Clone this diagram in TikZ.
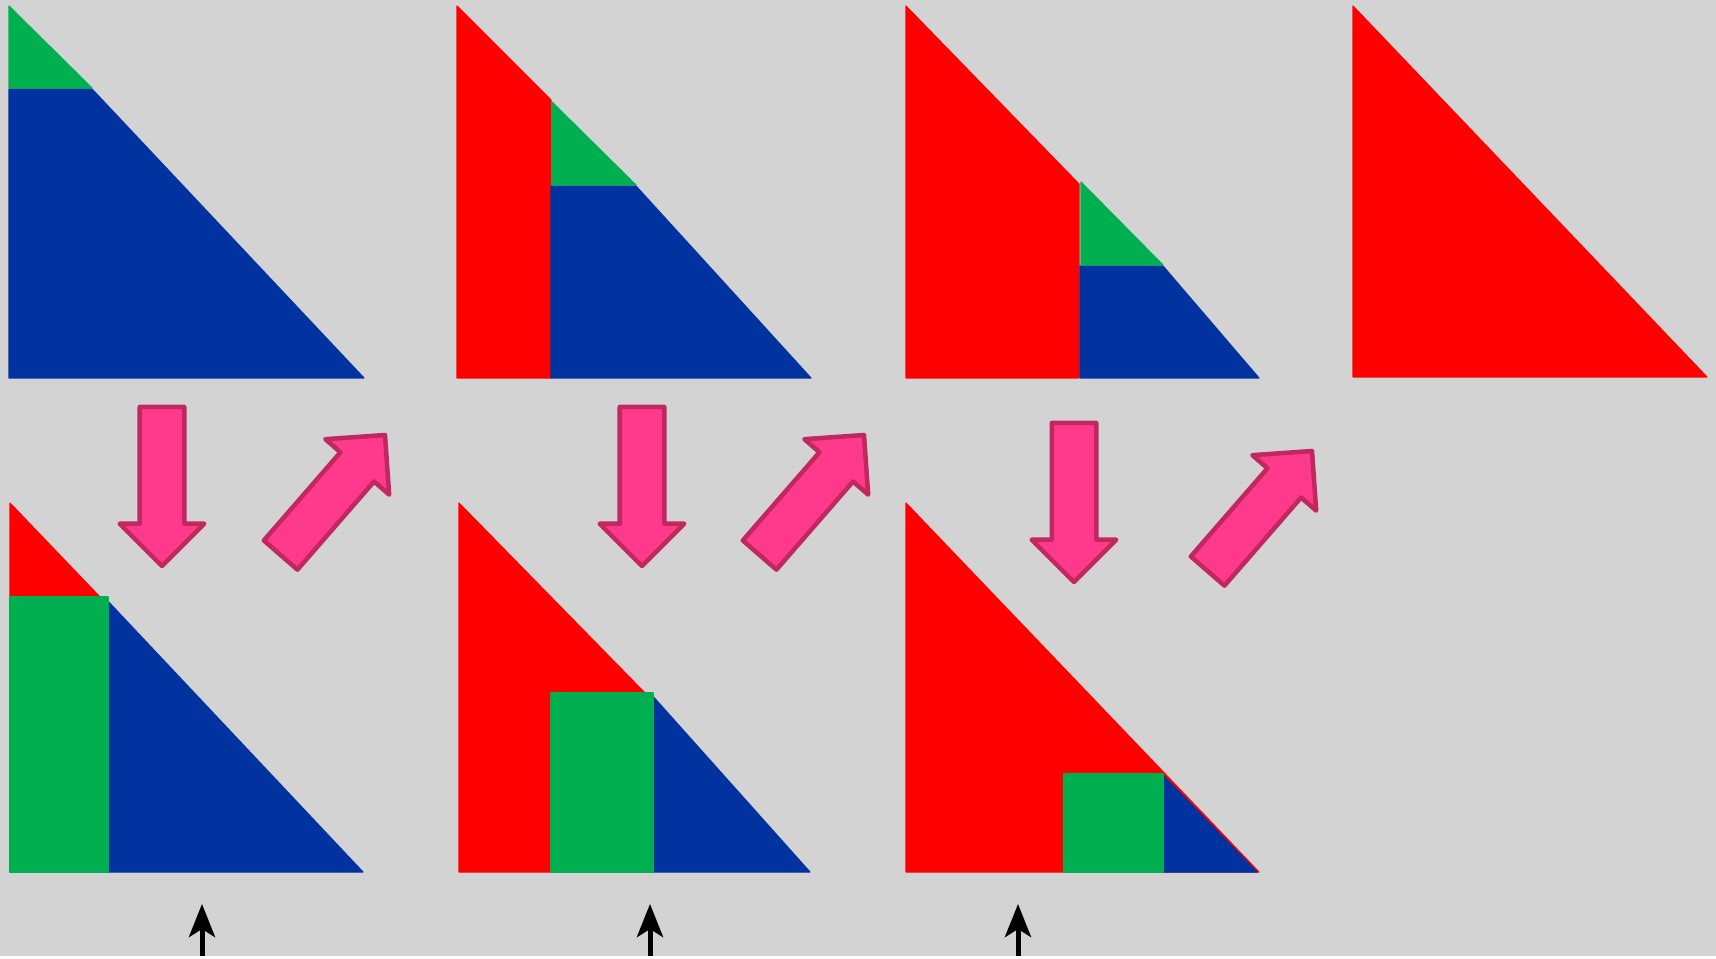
\documentclass[tikz,border=0pt]{standalone}
\usetikzlibrary{shapes.arrows}
\usetikzlibrary{arrows.meta}
\definecolor{bgray}{HTML}{D3D3D3}
\definecolor{tred}{HTML}{FF0000}
\definecolor{tblue}{HTML}{0033A0}
\definecolor{tgreen}{HTML}{00B050}
\definecolor{pinkfill}{HTML}{FF3A8C}
\definecolor{pinkline}{HTML}{C0285F}

\begin{document}
\begin{tikzpicture}[x=0.01cm, y=-0.01cm, line join=round,
    part/.style = {fill=#1, draw=#1, line width=0.3pt},
    bigarrow/.style = {single arrow, draw=pinkline, fill=pinkfill, line width=0.45mm, inner xsep=0pt, inner ysep=2mm, text height=0pt, text depth=0pt, single arrow head extend=2mm, minimum height=15.9mm, outer sep=0pt, anchor=tip},
    marker/.style = {-{Stealth[length=3.3mm, width=2.6mm, inset=0.8mm]}, line width=0.5mm, black}]
            \path[fill=bgray] (0,0) rectangle (1716,956);
            % top row
            \draw[part=tblue] (9,89) -- (92,89) -- (364,378) -- (9,378) -- cycle;
            \draw[part=tgreen] (9,6) -- (92,88) -- (9,88) -- cycle;
            \draw[part=tred] (457,6) -- (551,100) -- (551,378) -- (457,378) -- cycle;
            \draw[part=tblue] (551,186) -- (636,186) -- (811,378) -- (551,378) -- cycle;
            \draw[part=tgreen] (552,102) -- (636,185) -- (552,185) -- cycle;
            \draw[part=tred] (906,6) -- (1079,184) -- (1079,378) -- (906,378) -- cycle;
            \draw[part=tblue] (1080,266) -- (1163,266) -- (1259,378) -- (1080,378) -- cycle;
            \draw[part=tgreen] (1081,182) -- (1163,265) -- (1081,265) -- cycle;
            \draw[part=tred] (1353,6) -- (1707,377) -- (1353,377) -- cycle;
            % bottom row
            \draw[part=tblue] (10,597) -- (104,597) -- (363,872) -- (10,872) -- cycle;
            \draw[part=tred] (10,503) -- (100,597) -- (10,597) -- cycle;
            \draw[part=tgreen] (10,597) rectangle (108,872);
            \draw[part=tred] (459,503) -- (645,693) -- (645,872) -- (459,872) -- cycle;
            \draw[part=tblue] (650,693) -- (810,872) -- (650,872) -- cycle;
            \draw[part=tgreen] (551,693) rectangle (653,872);
            \draw[part=tred] (906,503) -- (1259,872) -- (906,872) -- cycle;
            \draw[part=tblue] (1163,775) -- (1257,872) -- (1163,872) -- cycle;
            \draw[part=tgreen] (1064,774) rectangle (1163,872);
            % pink arrows
            \node[bigarrow, rotate=-90] (dn1) at (162,566) {};
            \node[bigarrow, rotate=49] (up1) at (385,435) {};
            \node[bigarrow, rotate=-90] (dn2) at (642,566) {};
            \node[bigarrow, rotate=49] (up2) at (864,435) {};
            \node[bigarrow, rotate=-90] (dn3) at (1074,582) {};
            \node[bigarrow, rotate=49] (up3) at (1312,451) {};
            % markers
            \coordinate (b1) at (202,956); \coordinate (t1) at (202,904);
            \coordinate (b2) at (650,956); \coordinate (t2) at (650,904);
            \coordinate (b3) at (1018,956); \coordinate (t3) at (1018,904);
            \draw[marker] (b1) -- (t1);
            \draw[marker] (b2) -- (t2);
            \draw[marker] (b3) -- (t3);
\end{tikzpicture}
\end{document}
